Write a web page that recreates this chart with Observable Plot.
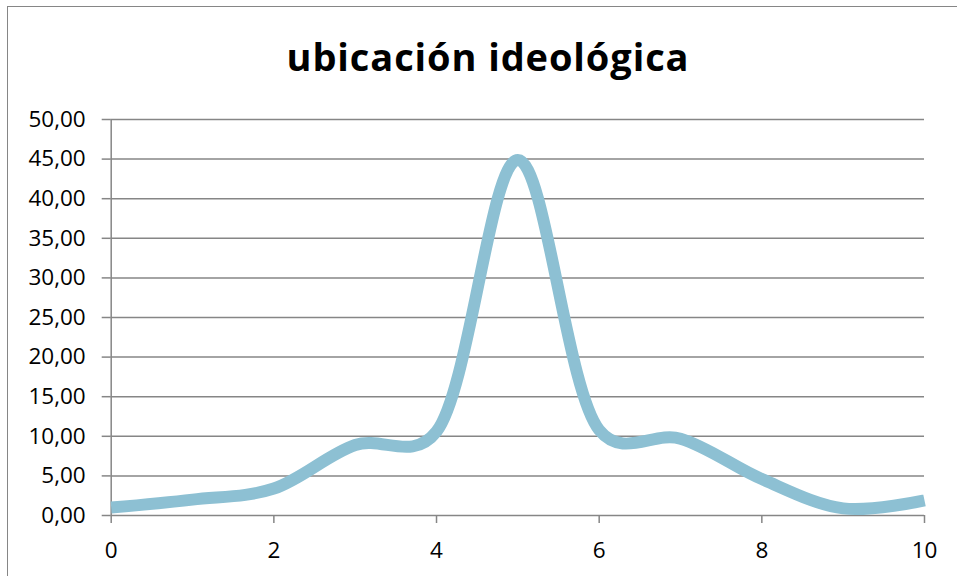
<!DOCTYPE html>
<html>
<head>
<meta charset="utf-8">
<script src="https://cdn.jsdelivr.net/npm/d3@7"></script>
<script src="https://cdn.jsdelivr.net/npm/@observablehq/plot@0.6"></script>
<style>
  html, body { margin: 0; padding: 0; background: #fff; }
  #wrap { position: relative; width: 957px; height: 576px; overflow: hidden; }
  #frame { position: absolute; left: 7px; top: 6px; width: 960px; height: 600px;
           border-top: 1.5px solid #868686; border-left: 1.5px solid #868686; box-sizing: border-box; }
  #title { position: absolute; left: 0; width: 976px; top: 31px; text-align: center;
           font-family: "Open Sans", sans-serif; font-weight: 700; font-size: 38px; letter-spacing: 0.9px;
           line-height: 50px; color: #000; }
  #chart { position: absolute; left: 0; top: 0; }
</style>
</head>
<body>
<div id="wrap">
  <div id="frame"></div>
  <div id="title">ubicación ideológica</div>
  <div id="chart"></div>
</div>
<script>
const titleText = "ubicación ideológica";
const ideologia = [0, 1, 2, 3, 4, 5, 6, 7, 8, 9, 10];
const porcentaje = [1.0, 2.0, 3.4, 8.9, 10.6, 44.9, 10.8, 9.7, 4.6, 0.9, 1.9];
const xTicks = [0, 2, 4, 6, 8, 10];
const yTicks = [0, 5, 10, 15, 20, 25, 30, 35, 40, 45, 50];

const data = ideologia.map((x, i) => ({x, y: porcentaje[i]}));
const grid = "#868686";
const fmt = d => d.toFixed(2).replace(".", ",");

const chart = Plot.plot({
  width: 957,
  height: 576,
  marginLeft: 110.7,
  marginRight: 33,
  marginTop: 119,
  marginBottom: 61,
  style: {fontFamily: "'Open Sans', sans-serif", color: "#000", background: "transparent"},
  x: {domain: [0, 10]},
  y: {domain: [0, 50]},
  marks: [
    Plot.gridY(yTicks, {stroke: grid, strokeOpacity: 1, strokeWidth: 1.5}),
    Plot.ruleX([0], {stroke: grid, strokeWidth: 1.5}),
    Plot.axisY(yTicks, {tickSize: 9, tickPadding: 16.5, tickFormat: fmt, fontSize: 22.5,
                        stroke: grid, strokeWidth: 1.5, label: null}),
    Plot.axisX(xTicks, {tickSize: 8, tickPadding: 19, fontSize: 22.5,
                        stroke: grid, strokeWidth: 1.5, label: null}),
    Plot.line(data, {x: "x", y: "y", stroke: "#8DC0D3", strokeWidth: 12,
                     strokeLinecap: "butt", curve: "catmull-rom", tension: 0.25})
  ]
});
document.getElementById("chart").appendChild(chart);
document.getElementById("title").textContent = titleText;
</script>
</body>
</html>
